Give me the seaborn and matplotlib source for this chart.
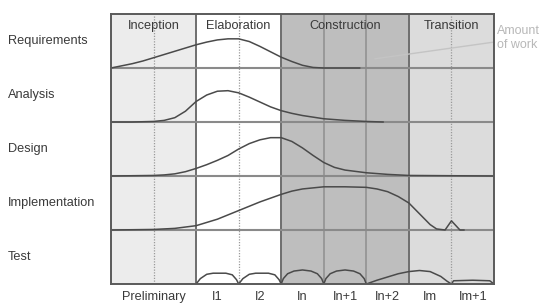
import matplotlib
matplotlib.use("Agg")
import matplotlib.pyplot as plt
import matplotlib.transforms as mtransforms
import pandas as pd
import seaborn as sns

# disciplines, top to bottom
disciplines = ["Requirements", "Analysis", "Design", "Implementation", "Test"]

phases = ["Inception", "Elaboration", "Construction", "Transition"]
phase_edges = [0, 2, 4, 7, 9]
phase_colors = ["#ececec", "#ffffff", "#bebebe", "#dcdcdc"]

iterations = ["Preliminary", "I1", "I2", "In", "In+1", "In+2", "Im", "Im+1"]
iteration_pos = [1, 2.5, 3.5, 4.5, 5.5, 6.5, 7.5, 8.5]

# amount of work per discipline (x in iteration units, height in row units)
req_x = [0, 0.25, 0.5, 0.75, 1, 1.25, 1.5, 1.75, 2, 2.25, 2.5, 2.75, 3, 3.25,
         3.5, 3.75, 4, 4.25, 4.5, 4.75, 5, 5.85]
req_y = [0, 0.04, 0.08, 0.13, 0.19, 0.25, 0.31, 0.37, 0.43, 0.48, 0.52, 0.54,
         0.54, 0.49, 0.4, 0.3, 0.2, 0.12, 0.05, 0.01, 0, 0]

ana_x = [0, 0.5, 1, 1.25, 1.5, 1.75, 2, 2.25, 2.5, 2.75, 3, 3.25, 3.5, 3.75,
         4, 4.25, 4.5, 4.75, 5, 5.5, 6, 6.4]
ana_y = [0, 0, 0.01, 0.03, 0.08, 0.2, 0.38, 0.5, 0.57, 0.58, 0.54, 0.46,
         0.37, 0.28, 0.21, 0.16, 0.12, 0.09, 0.06, 0.03, 0.01, 0]

des_x = [0, 1, 1.25, 1.5, 1.75, 2, 2.25, 2.5, 2.75, 3, 3.25, 3.5, 3.75, 4,
         4.25, 4.5, 4.75, 5, 5.25, 5.5, 6, 6.5, 7, 9]
des_y = [0, 0.01, 0.02, 0.04, 0.08, 0.14, 0.21, 0.29, 0.38, 0.5, 0.6, 0.67,
         0.71, 0.71, 0.64, 0.52, 0.38, 0.25, 0.16, 0.11, 0.06, 0.03, 0.01, 0]

imp_x = [0, 1, 1.5, 2, 2.5, 3, 3.5, 4, 4.25, 4.5, 5, 5.5, 6, 6.25, 6.5, 6.75,
         7, 7.25, 7.5, 7.65, 7.85, 8.0, 8.2, 8.3]
imp_y = [0, 0.01, 0.03, 0.08, 0.2, 0.36, 0.52, 0.66, 0.72, 0.76, 0.8, 0.8,
         0.79, 0.76, 0.71, 0.62, 0.5, 0.3, 0.1, 0.02, 0, 0.17, 0, 0]

test_x = [2, 2.1, 2.25, 2.4, 2.7, 2.85, 2.95, 3,
          3.1, 3.25, 3.4, 3.7, 3.85, 3.95, 4,
          4.05, 4.15, 4.3, 4.5, 4.7, 4.85, 4.95, 5,
          5.05, 5.15, 5.3, 5.5, 5.7, 5.85, 5.95, 6,
          6.25, 6.5, 6.75, 7, 7.25, 7.5, 7.75, 7.9, 8,
          8.05, 8.5, 8.9, 9]
test_y = [0, 0.1, 0.18, 0.2, 0.2, 0.17, 0.08, 0,
          0.1, 0.18, 0.2, 0.2, 0.17, 0.08, 0,
          0.1, 0.19, 0.24, 0.26, 0.24, 0.19, 0.1, 0,
          0.1, 0.19, 0.24, 0.26, 0.24, 0.19, 0.1, 0,
          0.07, 0.13, 0.19, 0.23, 0.25, 0.23, 0.14, 0.05, 0,
          0.06, 0.07, 0.06, 0]

curves = {
    "Requirements": (req_x, req_y),
    "Analysis": (ana_x, ana_y),
    "Design": (des_x, des_y),
    "Implementation": (imp_x, imp_y),
    "Test": (test_x, test_y),
}

work_line_x = [6.2, 9.0]
work_line_y = [4.17, 4.48]


def main():
    sns.set_style("white")
    plt.rcParams["font.family"] = ["Liberation Sans", "DejaVu Sans"]
    text_color = "#3a3a3a"

    fig = plt.figure(figsize=(5.47, 3.07), dpi=100)
    ax = fig.add_axes([0.2029, 0.0749, 0.7002, 0.8795])

    # phase backgrounds
    for i, name in enumerate(phases):
        ax.axvspan(phase_edges[i], phase_edges[i + 1], color=phase_colors[i], lw=0, zorder=0)
        ax.text((phase_edges[i] + phase_edges[i + 1]) / 2, 4.77, name, ha="center",
                va="center", fontsize=9.2, color=text_color)

    # iteration separators
    for x in [1, 3, 8]:
        ax.axvline(x, color="#9a9a9a", lw=0.9, ls=(0, (1, 1.2)), zorder=1)
    for x in [5, 6]:
        ax.axvline(x, color="#8e8e8e", lw=1.1, zorder=1)
    for x in phase_edges[1:-1]:
        ax.axvline(x, color="#6e6e6e", lw=1.4, zorder=2)

    # row separators
    for y in [1, 2, 3, 4]:
        ax.axhline(y, color="#8a8a8a", lw=1.5, zorder=2)

    n = len(disciplines)
    rows = []
    for i, name in enumerate(disciplines):
        base = n - 1 - i
        xs, ys = curves[name]
        for x, y in zip(xs, ys):
            rows.append({"discipline": name, "x": x, "y": base + y})
    df = pd.DataFrame(rows)
    for name in disciplines:
        sns.lineplot(data=df[df["discipline"] == name], x="x", y="y", sort=False,
                     estimator=None, color="#4a4a4a", lw=1.1, ax=ax, zorder=3)

    # "Amount of work" pointer
    ax.plot(work_line_x, work_line_y, color="#c4c4c4", lw=1, zorder=3, clip_on=False)
    ax.text(9.08, 4.55, "Amount\nof work", ha="left", va="center", fontsize=9,
            color="#b8b8b8", linespacing=1.2, clip_on=False)

    # discipline labels
    trans = mtransforms.blended_transform_factory(fig.transFigure, ax.transData)
    for i, name in enumerate(disciplines):
        ax.text(8 / 547, n - 1 - i + 0.5, name, transform=trans, ha="left",
                va="center", fontsize=9.2, color=text_color)

    ax.set_xlim(0, 9)
    ax.set_ylim(0, 5)
    ax.set_xticks(iteration_pos)
    ax.set_xticklabels(iterations, fontsize=9.2, color=text_color)
    ax.set_yticks([])
    ax.tick_params(axis="x", length=0, pad=5)
    ax.set_xlabel("")
    ax.set_ylabel("")
    for spine in ax.spines.values():
        spine.set_color("#5a5a5a")
        spine.set_linewidth(1.4)
        spine.set_zorder(4)

    fig.savefig("out.png", dpi=100)


if __name__ == "__main__":
    main()
